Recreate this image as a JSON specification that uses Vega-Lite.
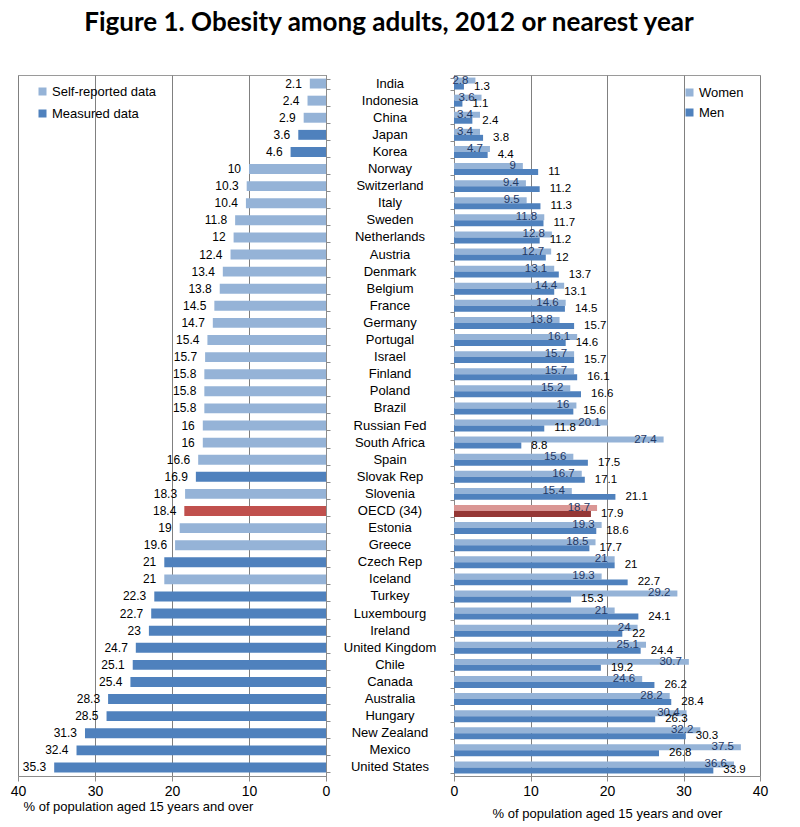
{
  "$schema": "https://vega.github.io/schema/vega-lite/v6.json",
  "padding": {"left": 9, "top": 10, "right": 5, "bottom": 0},
  "title": {"text": "Figure 1. Obesity among adults, 2012 or nearest year", "font": "Lato", "fontSize": 26, "fontWeight": "bold", "color": "black", "anchor": "middle", "offset": 38},
  "datasets": {
    "obesity": [
      {"country": "India", "total": 2.1, "type": "Self-reported data", "Women": 2.8, "Men": 1.3},
      {"country": "Indonesia", "total": 2.4, "type": "Self-reported data", "Women": 3.6, "Men": 1.1},
      {"country": "China", "total": 2.9, "type": "Self-reported data", "Women": 3.4, "Men": 2.4},
      {"country": "Japan", "total": 3.6, "type": "Measured data", "Women": 3.4, "Men": 3.8},
      {"country": "Korea", "total": 4.6, "type": "Measured data", "Women": 4.7, "Men": 4.4},
      {"country": "Norway", "total": 10, "type": "Self-reported data", "Women": 9, "Men": 11},
      {"country": "Switzerland", "total": 10.3, "type": "Self-reported data", "Women": 9.4, "Men": 11.2},
      {"country": "Italy", "total": 10.4, "type": "Self-reported data", "Women": 9.5, "Men": 11.3},
      {"country": "Sweden", "total": 11.8, "type": "Self-reported data", "Women": 11.8, "Men": 11.7},
      {"country": "Netherlands", "total": 12, "type": "Self-reported data", "Women": 12.8, "Men": 11.2},
      {"country": "Austria", "total": 12.4, "type": "Self-reported data", "Women": 12.7, "Men": 12},
      {"country": "Denmark", "total": 13.4, "type": "Self-reported data", "Women": 13.1, "Men": 13.7},
      {"country": "Belgium", "total": 13.8, "type": "Self-reported data", "Women": 14.4, "Men": 13.1},
      {"country": "France", "total": 14.5, "type": "Self-reported data", "Women": 14.6, "Men": 14.5},
      {"country": "Germany", "total": 14.7, "type": "Self-reported data", "Women": 13.8, "Men": 15.7},
      {"country": "Portugal", "total": 15.4, "type": "Self-reported data", "Women": 16.1, "Men": 14.6},
      {"country": "Israel", "total": 15.7, "type": "Self-reported data", "Women": 15.7, "Men": 15.7},
      {"country": "Finland", "total": 15.8, "type": "Self-reported data", "Women": 15.7, "Men": 16.1},
      {"country": "Poland", "total": 15.8, "type": "Self-reported data", "Women": 15.2, "Men": 16.6},
      {"country": "Brazil", "total": 15.8, "type": "Self-reported data", "Women": 16, "Men": 15.6},
      {"country": "Russian Fed", "total": 16, "type": "Self-reported data", "Women": 20.1, "Men": 11.8},
      {"country": "South Africa", "total": 16, "type": "Self-reported data", "Women": 27.4, "Men": 8.8},
      {"country": "Spain", "total": 16.6, "type": "Self-reported data", "Women": 15.6, "Men": 17.5},
      {"country": "Slovak Rep", "total": 16.9, "type": "Measured data", "Women": 16.7, "Men": 17.1},
      {"country": "Slovenia", "total": 18.3, "type": "Self-reported data", "Women": 15.4, "Men": 21.1},
      {"country": "OECD (34)", "total": 18.4, "type": "OECD average", "Women": 18.7, "Men": 17.9},
      {"country": "Estonia", "total": 19, "type": "Self-reported data", "Women": 19.3, "Men": 18.6},
      {"country": "Greece", "total": 19.6, "type": "Self-reported data", "Women": 18.5, "Men": 17.7},
      {"country": "Czech Rep", "total": 21, "type": "Measured data", "Women": 21, "Men": 21},
      {"country": "Iceland", "total": 21, "type": "Self-reported data", "Women": 19.3, "Men": 22.7},
      {"country": "Turkey", "total": 22.3, "type": "Measured data", "Women": 29.2, "Men": 15.3},
      {"country": "Luxembourg", "total": 22.7, "type": "Measured data", "Women": 21, "Men": 24.1},
      {"country": "Ireland", "total": 23, "type": "Measured data", "Women": 24, "Men": 22},
      {"country": "United Kingdom", "total": 24.7, "type": "Measured data", "Women": 25.1, "Men": 24.4},
      {"country": "Chile", "total": 25.1, "type": "Measured data", "Women": 30.7, "Men": 19.2},
      {"country": "Canada", "total": 25.4, "type": "Measured data", "Women": 24.6, "Men": 26.2},
      {"country": "Australia", "total": 28.3, "type": "Measured data", "Women": 28.2, "Men": 28.4},
      {"country": "Hungary", "total": 28.5, "type": "Measured data", "Women": 30.4, "Men": 26.3},
      {"country": "New Zealand", "total": 31.3, "type": "Measured data", "Women": 32.2, "Men": 30.3},
      {"country": "Mexico", "total": 32.4, "type": "Measured data", "Women": 37.5, "Men": 26.8},
      {"country": "United States", "total": 35.3, "type": "Measured data", "Women": 36.6, "Men": 33.9}
    ]
  },
  "data": {"name": "obesity"},
  "spacing": 0,
  "hconcat": [
    {
      "width": 308,
      "height": 701,
      "encoding": {
        "y": {"field": "country", "type": "nominal", "sort": null,
          "scale": {"paddingInner": 0.42, "paddingOuter": 0.21},
          "axis": {"orient": "right", "labels": false, "title": null, "ticks": true, "tickBand": "extent", "tickSize": 4, "domainColor": "#8c8c8c", "tickColor": "#8c8c8c"}},
        "x": {"field": "total", "type": "quantitative",
          "scale": {"domain": [0, 40], "reverse": true},
          "axis": {"values": [0, 10, 20, 30, 40], "grid": true, "gridColor": "#808080", "domainColor": "#8c8c8c", "tickColor": "#8c8c8c", "tickSize": 5, "labelFlush": false, "labelFontSize": 14, "labelColor": "black", "labelPadding": 3, "title": "% of population aged 15 years and over", "titleFontSize": 13, "titleFontWeight": "normal", "titleColor": "black", "titleX": 5, "titleAlign": "left", "titlePadding": 2}}
      },
      "layer": [
        {
          "mark": {"type": "bar"},
          "encoding": {
            "color": {
              "condition": {"test": "datum.country === 'OECD (34)'", "value": "#C0504D"},
              "field": "type", "type": "nominal",
              "scale": {"domain": ["Self-reported data", "Measured data"], "range": ["#95B3D7", "#4F81BD"]},
              "legend": {"orient": "none", "legendX": 18, "legendY": 10, "title": null, "symbolType": "square", "symbolSize": 64, "symbolStrokeWidth": 0, "labelFontSize": 13, "labelColor": "black", "rowPadding": 8, "labelOffset": 3}
            }
          }
        },
        {
          "mark": {"type": "text", "align": "right", "baseline": "middle", "dx": -8, "fontSize": 12, "color": "black"},
          "encoding": {"text": {"field": "total", "type": "nominal"}}
        }
      ]
    },
    {
      "width": 118,
      "height": 701,
      "view": {"stroke": null},
      "mark": {"type": "text", "align": "center", "baseline": "middle", "fontSize": 13, "color": "black"},
      "encoding": {
        "y": {"field": "country", "type": "nominal", "sort": null, "axis": null,
          "scale": {"paddingInner": 0.42, "paddingOuter": 0.21}},
        "text": {"field": "country", "type": "nominal"}
      }
    },
    {
      "width": 306,
      "height": 701,
      "transform": [{"fold": ["Women", "Men"], "as": ["sex", "value"]}],
      "encoding": {
        "y": {"field": "country", "type": "nominal", "sort": null,
          "scale": {"paddingInner": 0.3, "paddingOuter": 0.15},
          "axis": {"orient": "left", "labels": false, "title": null, "ticks": true, "tickBand": "extent", "tickSize": 4, "domainColor": "#8c8c8c", "tickColor": "#8c8c8c"}},
        "yOffset": {"field": "sex", "type": "nominal", "scale": {"domain": ["Women", "Men"], "paddingInner": 0, "paddingOuter": 0}},
        "x": {"field": "value", "type": "quantitative",
          "scale": {"domain": [0, 40]},
          "axis": {"values": [0, 10, 20, 30, 40], "grid": true, "gridColor": "#808080", "domainColor": "#8c8c8c", "tickColor": "#8c8c8c", "tickSize": 5, "labelFlush": false, "labelFontSize": 14, "labelColor": "black", "labelPadding": 3, "title": "% of population aged 15 years and over", "titleFontSize": 13, "titleFontWeight": "normal", "titleColor": "black", "titlePadding": 9}}
      },
      "layer": [
        {
          "mark": {"type": "bar"},
          "encoding": {
            "color": {
              "condition": [
                {"test": "datum.country === 'OECD (34)' && datum.sex === 'Women'", "value": "#DA9694"},
                {"test": "datum.country === 'OECD (34)'", "value": "#953735"}
              ],
              "field": "sex", "type": "nominal",
              "scale": {"domain": ["Women", "Men"], "range": ["#95B3D7", "#4F81BD"]},
              "legend": {"orient": "none", "legendX": 229, "legendY": 11, "title": null, "symbolType": "square", "symbolSize": 64, "symbolStrokeWidth": 0, "labelFontSize": 13, "labelColor": "black", "rowPadding": 6, "labelOffset": 3}
            }
          }
        },
        {
          "transform": [{"filter": "datum.sex === 'Women'"}],
          "mark": {"type": "text", "align": "right", "baseline": "middle", "dx": -7, "fontSize": 11.5, "color": "#1F3864"},
          "encoding": {"text": {"field": "value", "type": "nominal"}}
        },
        {
          "transform": [{"filter": "datum.sex === 'Men'"}],
          "mark": {"type": "text", "align": "left", "baseline": "middle", "dx": 10, "fontSize": 11.5, "color": "black"},
          "encoding": {"text": {"field": "value", "type": "nominal"}}
        }
      ]
    }
  ],
  "resolve": {"scale": {"color": "independent", "y": "independent", "x": "independent"}},
  "config": {
    "font": "Liberation Sans",
    "view": {"stroke": "#9a9a9a"},
    "axis": {"labelFont": "Liberation Sans", "titleFont": "Liberation Sans"},
    "legend": {"labelFont": "Liberation Sans"}
  }
}
